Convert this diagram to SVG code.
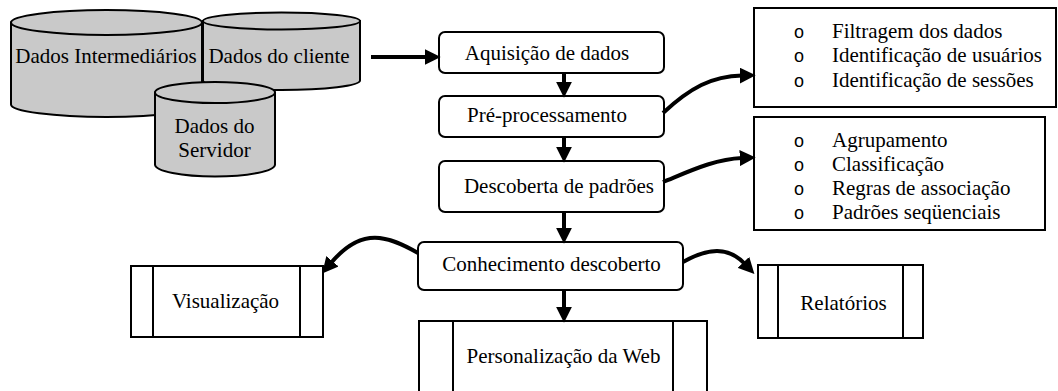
<svg xmlns="http://www.w3.org/2000/svg" width="1058" height="391" viewBox="0 0 1058 391">
<style>
text{font-family:'Liberation Serif','Times New Roman','DejaVu Serif',serif;font-size:21px;fill:#000}
.m{text-anchor:middle}
.b{font-family:'Liberation Sans',Arial,sans-serif;font-size:18px;text-anchor:middle}
.cyl{fill:#c9c9c9;stroke:#000;stroke-width:2}
.rb{fill:#fff;stroke:#000;stroke-width:2}
.bx{fill:#fff;stroke:#000;stroke-width:2}
.ln{fill:none;stroke:#000;stroke-width:2}
.ar{fill:none;stroke:#000;stroke-width:4}
</style>
<defs>
<marker id="ah" markerUnits="userSpaceOnUse" markerWidth="16" markerHeight="16" refX="2" refY="7" orient="auto" viewBox="0 0 14 14">
<path d="M0,0 L14,7 L0,14 z" fill="#000"/>
</marker>
</defs>

<g id="cyl-intermediarios">
<path class="cyl" d="M11,22.5 L11,104.5 A95.5,12.5 0 0 0 202,104.5 L202,22.5 Z"/>
<ellipse class="cyl" cx="106.5" cy="22.5" rx="95.5" ry="12.5"/>
<text class="m" x="106" y="63">Dados Intermediários</text>
</g>
<g id="cyl-cliente">
<path class="cyl" d="M203,21 L203,80.5 A78.5,9.5 0 0 0 360,80.5 L360,21 Z"/>
<ellipse class="cyl" cx="281.5" cy="21" rx="78.5" ry="8.5"/>
<text class="m" x="279" y="63">Dados do cliente</text>
</g>
<g id="cyl-servidor">
<path class="cyl" d="M155,92.5 L155,164.5 A60,12 0 0 0 275,164.5 L275,92.5 Z"/>
<ellipse class="cyl" cx="215" cy="92.5" rx="60" ry="10.5"/>
<text class="m" x="214.5" y="133">Dados do</text>
<text class="m" x="214.5" y="157">Servidor</text>
</g>

<g id="aquisicao">
<rect class="rb" x="439" y="32" width="225" height="41" rx="6"/>
<text class="m" x="547" y="60">Aquisição de dados</text>
</g>
<g id="preprocessamento">
<rect class="rb" x="439" y="96" width="225" height="41" rx="6"/>
<text class="m" x="547" y="122">Pré-processamento</text>
</g>
<g id="descoberta">
<rect class="rb" x="439" y="161" width="225" height="51" rx="6"/>
<text class="m" x="559" y="193">Descoberta de padrões</text>
</g>
<g id="conhecimento">
<rect class="rb" x="418" y="242" width="265" height="48" rx="6"/>
<text class="m" x="551.5" y="271">Conhecimento descoberto</text>
</g>

<g id="lista-pre">
<rect class="bx" x="754" y="8" width="302" height="99"/>
<text class="b" x="799" y="37.5">o</text>
<text class="b" x="799" y="62">o</text>
<text class="b" x="799" y="86.5">o</text>
<text x="832" y="37.5">Filtragem dos dados</text>
<text x="832" y="62">Identificação de usuários</text>
<text x="832" y="86.5">Identificação de sessões</text>
</g>
<g id="lista-padroes">
<rect class="bx" x="754" y="117" width="291" height="113"/>
<text class="b" x="799" y="146.5">o</text>
<text class="b" x="799" y="170.5">o</text>
<text class="b" x="799" y="194.5">o</text>
<text class="b" x="799" y="218.5">o</text>
<text x="832" y="146.5">Agrupamento</text>
<text x="832" y="170.5">Classificação</text>
<text x="832" y="194.5">Regras de associação</text>
<text x="832" y="218.5">Padrões seqüenciais</text>
</g>

<g id="visualizacao">
<rect class="bx" x="131" y="266" width="192" height="71"/>
<line class="ln" x1="153" y1="266" x2="153" y2="337"/>
<line class="ln" x1="300" y1="266" x2="300" y2="337"/>
<text class="m" x="225.5" y="308">Visualização</text>
</g>
<g id="relatorios">
<rect class="bx" x="758" y="265" width="165" height="73"/>
<line class="ln" x1="778" y1="265" x2="778" y2="338"/>
<line class="ln" x1="903" y1="265" x2="903" y2="338"/>
<text class="m" x="843.5" y="310">Relatórios</text>
</g>
<g id="personalizacao">
<rect class="bx" x="419" y="321" width="288" height="80"/>
<line class="ln" x1="453" y1="321" x2="453" y2="401"/>
<line class="ln" x1="673" y1="321" x2="673" y2="401"/>
<text class="m" x="563.5" y="363">Personalização da Web</text>
</g>

<g id="connectors">
<path class="ar" d="M371,57 L427,57" marker-end="url(#ah)"/>
<path class="ar" d="M564,73 L564,84" marker-end="url(#ah)"/>
<path class="ar" d="M564,137 L564,149" marker-end="url(#ah)"/>
<path class="ar" d="M564,212 L564,230" marker-end="url(#ah)"/>
<path class="ar" d="M564,290 L564,309" marker-end="url(#ah)"/>
<path class="ar" d="M663,113 C690,88 712,76 742,75.5" marker-end="url(#ah)"/>
<path class="ar" d="M663,182 C690,171 715,159 742,158" marker-end="url(#ah)"/>
<path class="ar" d="M418,253 C388,236 362,226 331,263" marker-end="url(#ah)"/>
<path class="ar" d="M683,262 C708,248 728,246 745,264" marker-end="url(#ah)"/>
</g>
</svg>
